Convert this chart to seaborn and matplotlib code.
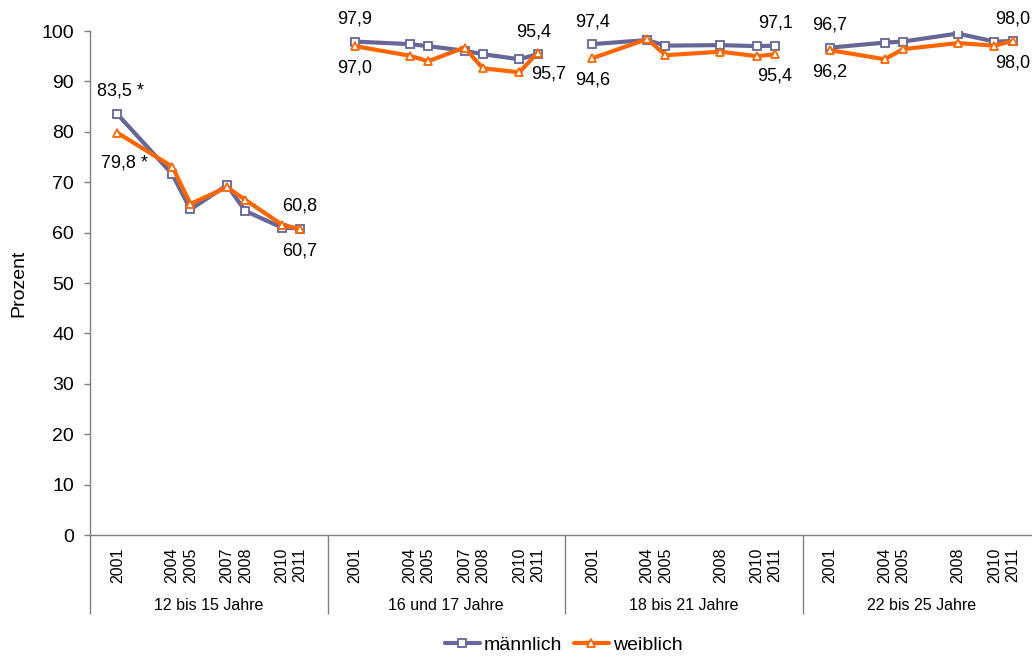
import pandas as pd
import numpy as np
import matplotlib
matplotlib.use('Agg')
import matplotlib.pyplot as plt
from matplotlib.lines import Line2D
import seaborn as sns

# Altersgruppen und Erhebungsjahre
gruppen = ['12 bis 15 Jahre', '16 und 17 Jahre', '18 bis 21 Jahre', '22 bis 25 Jahre']
jahre_g1 = [2001, 2004, 2005, 2007, 2008, 2010, 2011]
jahre_g2 = [2001, 2004, 2005, 2007, 2008, 2010, 2011]
jahre_g3 = [2001, 2004, 2005, 2008, 2010, 2011]
jahre_g4 = [2001, 2004, 2005, 2008, 2010, 2011]

# Werte in Prozent
maennlich_g1 = [83.5, 71.6, 64.6, 69.4, 64.3, 61.0, 60.8]
weiblich_g1 = [79.8, 73.1, 65.7, 69.0, 66.5, 61.6, 60.7]
maennlich_g2 = [97.9, 97.4, 97.0, 96.1, 95.4, 94.4, 95.4]
weiblich_g2 = [97.0, 95.1, 94.0, 96.7, 92.6, 91.8, 95.7]
maennlich_g3 = [97.4, 98.2, 97.1, 97.2, 97.0, 97.1]
weiblich_g3 = [94.6, 98.4, 95.2, 95.9, 95.0, 95.4]
maennlich_g4 = [96.7, 97.7, 97.9, 99.5, 97.9, 98.0]
weiblich_g4 = [96.2, 94.4, 96.4, 97.6, 97.1, 98.0]

jahre = [jahre_g1, jahre_g2, jahre_g3, jahre_g4]
maennlich = [maennlich_g1, maennlich_g2, maennlich_g3, maennlich_g4]
weiblich = [weiblich_g1, weiblich_g2, weiblich_g3, weiblich_g4]

SPANNE = 13  # Jahre pro Gruppe auf der Achse (2001-1.5 .. 2011+1.5)
farben = {'männlich': '#666699', 'weiblich': '#FF6600'}


def pos(g, jahr):
    return g * SPANNE + (jahr - 2001) + 1.5


zeilen = []
for g in range(len(gruppen)):
    for j, m, w in zip(jahre[g], maennlich[g], weiblich[g]):
        zeilen.append({'pos': pos(g, j), 'prozent': m, 'geschlecht': 'männlich', 'gruppe': g})
        zeilen.append({'pos': pos(g, j), 'prozent': w, 'geschlecht': 'weiblich', 'gruppe': g})
df = pd.DataFrame(zeilen)

sns.set_style('white')
plt.rcParams['font.family'] = ['Liberation Sans', 'DejaVu Sans']
plt.rcParams['text.color'] = 'black'
plt.rcParams['axes.labelcolor'] = 'black'

fig = plt.figure(figsize=(10.32, 6.57), dpi=100)
ax = fig.add_axes([90 / 1032, 1 - 535 / 657, 950 / 1032, 504 / 657])

sns.lineplot(data=df, x='pos', y='prozent', hue='geschlecht', style='geschlecht',
             units='gruppe', estimator=None, sort=False, palette=farben,
             hue_order=['männlich', 'weiblich'],
             markers={'männlich': 's', 'weiblich': '^'}, dashes=False,
             linewidth=3, markersize=6.3, markeredgewidth=1.3,
             markerfacecolor='white', legend=False, ax=ax)
for line in ax.lines:
    line.set_markeredgecolor(line.get_color())
    line.set_markerfacecolor('white')

# Beschriftung erster / letzter Wert je Gruppe
versatz = {
    (0, 'm', 0): (2, 17), (0, 'w', 0): (5, -22),
    (1, 'm', 1): (-3, 16), (1, 'w', 1): (8, -15),
}
for g in range(len(gruppen)):
    for k, idx in enumerate([0, -1]):
        x = pos(g, jahre[g][idx])
        for s, werte, dy in [('m', maennlich[g], 16), ('w', weiblich[g], -16)]:
            v = werte[idx]
            txt = f'{v:.1f}'.replace('.', ',')
            if g == 0 and k == 0:
                txt += ' *'
            dx, ddy = versatz.get((g, s, k), (0, dy))
            ax.annotate(txt, (x, v), xytext=(dx, ddy), textcoords='offset points',
                        ha='center', va='center', fontsize=13)

ax.set_xlim(0, SPANNE * len(gruppen))
ax.set_ylim(0, 100)
ax.set_yticks(np.arange(0, 101, 10))
ticks, labels = [], []
for g in range(len(gruppen)):
    for j in jahre[g]:
        ticks.append(pos(g, j))
        labels.append(str(j))
ax.set_xticks(ticks, labels, rotation=90, fontsize=11.5)
ax.tick_params(axis='x', length=0, pad=9, labelcolor='black')
ax.tick_params(axis='y', length=4.5, width=1, color='#808080', labelsize=14, pad=7,
               left=True, labelcolor='black')
ax.set_xlabel('')
ax.set_ylabel('Prozent', fontsize=14)
ax.yaxis.set_label_coords(-0.066, 0.5)

for s in ['top', 'right']:
    ax.spines[s].set_visible(False)
for s in ['left', 'bottom']:
    ax.spines[s].set_color('#808080')
    ax.spines[s].set_linewidth(1)

# Gruppentrenner und Gruppennamen unter der Achse
trans = ax.get_xaxis_transform()
ax.vlines([g * SPANNE for g in range(len(gruppen) + 1)], 0, -0.157,
          transform=trans, clip_on=False, color='#808080', lw=1)
for g, name in enumerate(gruppen):
    ax.text(g * SPANNE + SPANNE / 2, -0.139, name, transform=trans,
            ha='center', va='center', fontsize=11.5)

handles = [Line2D([], [], color=farben[k], lw=3, marker=mk, ms=6.3, mew=1.3,
                  mfc='white', mec=farben[k])
           for k, mk in [('männlich', 's'), ('weiblich', '^')]]
fig.legend(handles, ['männlich', 'weiblich'], loc='center', bbox_to_anchor=(0.546, 0.018),
           ncol=2, frameon=False, fontsize=14, handlelength=1.8, handletextpad=0.2,
           columnspacing=0.6)

fig.savefig('out.png', dpi=100)
